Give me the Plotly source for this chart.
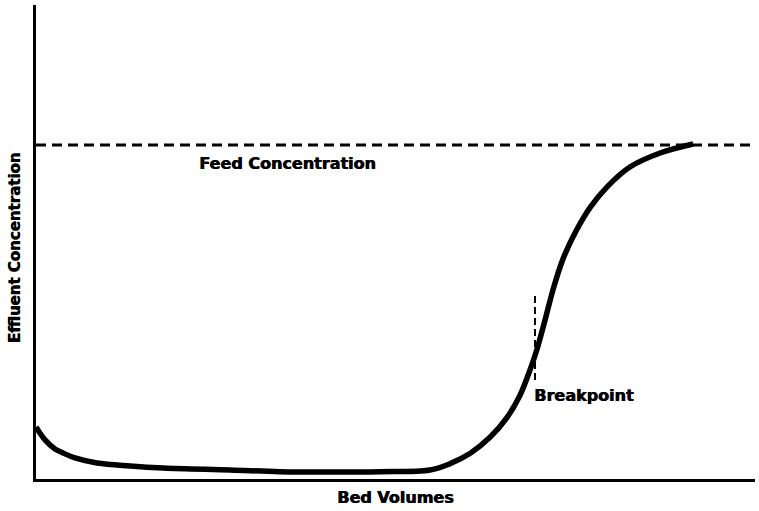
import plotly.graph_objects as go

# Breakthrough curve: effluent concentration (fraction of feed) vs bed volumes
bed_volumes = [0.0, 1.25, 2.64, 3.76, 5.42, 8.48, 13.1, 17.7, 27.0, 33.9, 40.9, 47.8,
               54.8, 57.6, 60.4, 63.1, 65.5, 67.3, 68.7, 69.7, 70.8, 71.9, 73.3,
               75.2, 77.1, 79.4, 82.6, 86.8, 91.4]
effluent = [0.156, 0.117, 0.090, 0.078, 0.063, 0.048, 0.039, 0.033, 0.027, 0.022,
            0.021, 0.022, 0.027, 0.046, 0.077, 0.124, 0.184, 0.250, 0.326, 0.390,
            0.476, 0.566, 0.659, 0.746, 0.814, 0.874, 0.934, 0.976, 1.003]

feed_level = 1.0
breakpoint_x = 69.4
breakpoint_marker_y = [0.296, 0.557]

x_range = [0, 100]
y_range = [0, 1.419]

font_family = "DejaVu Sans, Liberation Sans, Arial, sans-serif"

fig = go.Figure()

# feed concentration (dashed)
fig.add_trace(go.Scatter(
    x=x_range, y=[feed_level, feed_level], mode="lines",
    line=dict(color="black", width=3, dash="10px,6px"),
    hoverinfo="skip", showlegend=False))

# breakpoint marker
fig.add_trace(go.Scatter(
    x=[breakpoint_x, breakpoint_x], y=breakpoint_marker_y, mode="lines",
    line=dict(color="black", width=2, dash="7px,4px"),
    hoverinfo="skip", showlegend=False))

# breakthrough curve
fig.add_trace(go.Scatter(
    x=bed_volumes, y=effluent, mode="lines",
    line=dict(color="black", width=5.5, shape="spline", smoothing=1.0),
    hoverinfo="skip", showlegend=False))

fig.update_xaxes(range=x_range, showline=True, linecolor="black", linewidth=3,
                 showgrid=False, zeroline=False, showticklabels=False, ticks="")
fig.update_yaxes(range=y_range, showline=True, linecolor="black", linewidth=3,
                 showgrid=False, zeroline=False, showticklabels=False, ticks="")

heavy = "0.7px 0px 0px black"
label_font = dict(family=font_family, size=16, color="black", shadow=heavy)

fig.add_annotation(x=35.0, y=0.946, text="<b>Feed Concentration</b>",
                   showarrow=False, font=label_font, xanchor="center", yanchor="middle")
fig.add_annotation(x=69.0, y=0.249, text="<b>Breakpoint</b>",
                   showarrow=False, font=label_font, xanchor="left", yanchor="middle")
fig.add_annotation(xref="paper", yref="paper", x=0.50, y=-0.038,
                   text="<b>Bed Volumes</b>", showarrow=False, font=label_font,
                   xanchor="center", yanchor="middle")
fig.add_annotation(xref="paper", yref="paper", x=-0.029, y=0.487,
                   text="<b>Effluent Concentration</b>", showarrow=False,
                   font=dict(family=font_family, size=15, color="black", shadow=heavy),
                   textangle=-90, xanchor="center", yanchor="middle")

fig.update_layout(
    width=759, height=511,
    margin=dict(l=36, r=4, t=5, b=32),
    plot_bgcolor="white", paper_bgcolor="white",
    font=dict(family=font_family),
)

fig.write_html("out.html")
